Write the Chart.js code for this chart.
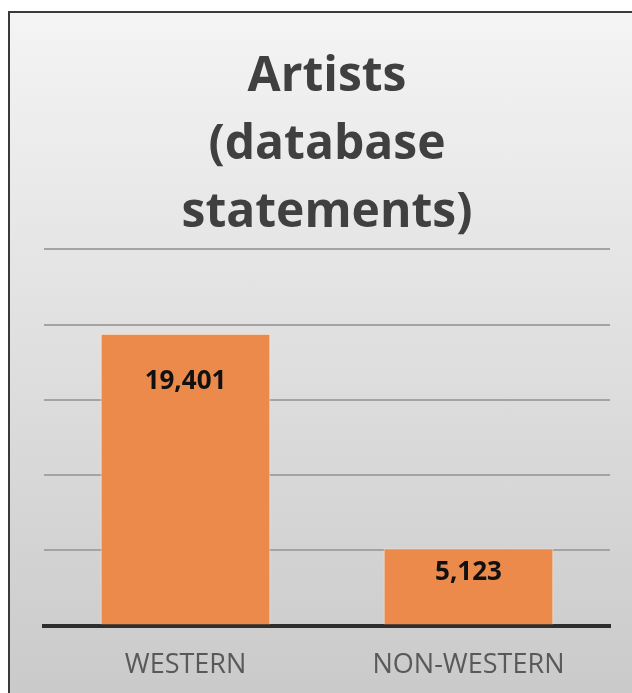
<!DOCTYPE html>
<html>
<head>
<meta charset="utf-8">
<script src="https://cdn.jsdelivr.net/npm/chart.js@4.4.1/dist/chart.umd.min.js"></script>
<style>
    html, body { margin: 0; padding: 0; background: #fff; }
    body { width: 632px; height: 693px; position: relative; overflow: hidden; }
    .frame {
        position: absolute; left: 8px; top: 11px; width: 640px; height: 700px;
        border-left: 2px solid #3a3a3a; border-top: 2px solid #3a3a3a;
        background: linear-gradient(#f4f4f4, #c9c9c9);
    }
    #chartWrap { position: absolute; left: 0; top: 0; width: 632px; height: 698px; }
</style>
</head>
<body>
<div class="frame"></div>
<div id="chartWrap"><canvas id="artistsChart"></canvas></div>
<script>
const categories = ['WESTERN', 'NON-WESTERN'];
const artistCounts = [19401, 5123];
const titleLines = ['Artists', '(database', 'statements)'];

// Value labels drawn inside the top of each bar
const labelOffsets = [48, 24];
const valueLabels = {
    id: 'valueLabels',
    afterDatasetsDraw(chart) {
        const ctx = chart.ctx;
        const meta = chart.getDatasetMeta(0);
        ctx.save();
        ctx.font = 'bold 26px "Open Sans"';
        ctx.fillStyle = '#111';
        ctx.textAlign = 'center';
        ctx.textBaseline = 'middle';
        meta.data.forEach((bar, i) => {
            const txt = artistCounts[i].toLocaleString('en-US');
            ctx.fillText(txt, bar.x, bar.y + labelOffsets[i]);
        });
        ctx.restore();
    }
};

const ctx = document.getElementById('artistsChart').getContext('2d');
const chart = new Chart(ctx, {
    type: 'bar',
    data: {
        labels: categories,
        datasets: [{
            data: artistCounts,
            backgroundColor: '#EB8A4B',
            borderColor: 'rgba(255, 235, 215, 0.8)',
            borderWidth: 1,
            categoryPercentage: 1,
            barPercentage: 0.6
        }]
    },
    options: {
        responsive: true,
        maintainAspectRatio: false,
        animation: false,
        layout: { padding: { left: 44, right: 22, top: 43, bottom: 0 } },
        plugins: {
            legend: { display: false },
            tooltip: { enabled: false },
            title: {
                display: true,
                text: titleLines,
                color: '#404040',
                font: { family: 'Open Sans', size: 48, weight: 'bold', lineHeight: 1.42 },
                padding: { top: 0, bottom: 2 }
            }
        },
        scales: {
            x: {
                grid: { display: false },
                border: { display: true, color: '#2e2e2e', width: 4 },
                ticks: {
                    color: '#595959',
                    padding: 16,
                    font: { family: 'Open Sans', size: 27 }
                }
            },
            y: {
                min: 0,
                max: 25000,
                ticks: { display: false, stepSize: 5000 },
                border: { display: false },
                grid: { color: '#a3a3a3', lineWidth: 2, drawTicks: false },
                afterFit: scale => { scale.width = 0; }
            }
        }
    },
    plugins: [valueLabels]
});
</script>
</body>
</html>
